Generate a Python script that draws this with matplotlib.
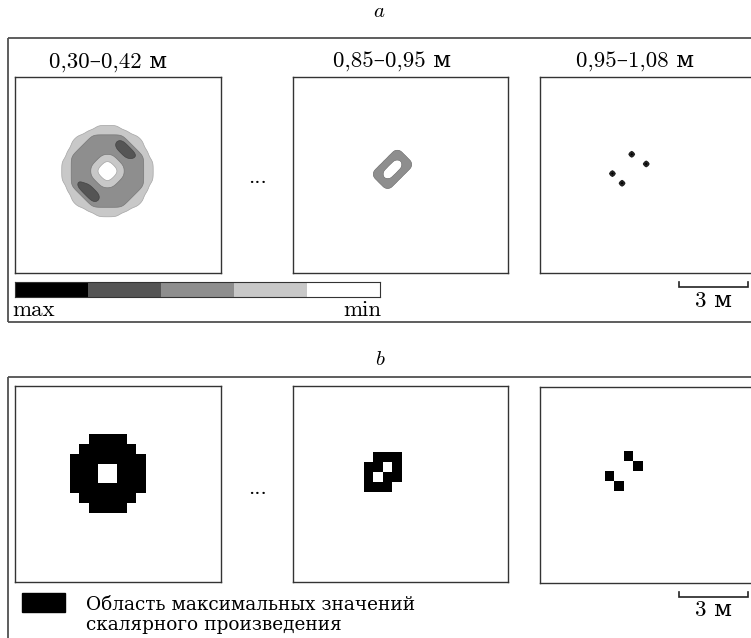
import numpy as np
import matplotlib
matplotlib.use("Agg")
import matplotlib.pyplot as plt
from matplotlib.colors import ListedColormap
from matplotlib.patches import Rectangle

plt.rcParams['mathtext.fontset'] = 'cm'
FONT = ['cmr10', 'DejaVu Serif']
plt.rcParams['font.family'] = FONT

# ---------------- data ----------------
depth_labels = ["0,30–0,42 м", "0,85–0,95 м", "0,95–1,08 м"]
panel_labels = ["$a$", "$b$"]
# level colours, index 0 = min (white) ... 4 = max (black)
level_colors = ["#ffffff", "#c8c8c8", "#8e8e8e", "#555555", "#000000"]
colorbar_levels = [4, 3, 2, 1, 0]
colorbar_ends = ["max", "min"]
scale_length_m = 3
legend_lines = ["Область максимальных значений", "скалярного произведения"]

# panel a: level of the scalar product on a grid (0 = min ... 4 = max)
field_1 = [
    "000000000000000000000",
    "000000001111100000000",
    "000000111111111000000",
    "000011122222221110000",
    "000111222222332111000",
    "000112222222333211000",
    "001122222222233321100",
    "001222222111223332100",
    "011222221101122222110",
    "011222211000112222110",
    "011222210000012222110",
    "011222211000112222110",
    "011232221101122222110",
    "001233322111222222100",
    "001123332222222221100",
    "000112333222222211000",
    "000111233222222111000",
    "000011122222221110000",
    "000000111111111000000",
    "000000001111100000000",
    "000000000000000000000",
]
field_2 = [
    "0000000000",
    "0000022000",
    "0000222200",
    "0002200220",
    "0022000220",
    "0220002200",
    "0220022000",
    "0022220000",
    "0002200000",
    "0000000000",
]
field_3 = [
    "0000000000",
    "0000040000",
    "0000000000",
    "0000000040",
    "0000000000",
    "0400000000",
    "0000000000",
    "0004000000",
    "0000000000",
]

# panel b: cells of maximal scalar product
mask_1 = [
    "..####..",
    ".######.",
    "########",
    "###..###",
    "###..###",
    "########",
    ".######.",
    "..####..",
]
mask_2 = [
    ".###",
    "##.#",
    "#.##",
    "###.",
]
mask_3 = [
    "..#.",
    "...#",
    "#...",
    ".#..",
]

# ---------------- layout ----------------
W, H = 751, 638
PX_PER_M = 23.0
GRID_STEP = 0.21              # m, grid of panel a
CELL_W, CELL_H = 0.41, 0.425  # m, cells of panel b

fig = plt.figure(figsize=(W / 100, H / 100), dpi=100)


def px_axes(x, y, w, h, **kw):
    return fig.add_axes([x / W, 1 - (y + h) / H, w / W, h / H], **kw)


overlay = px_axes(0, 0, W, H)
overlay.set_xlim(0, W)
overlay.set_ylim(H, 0)
overlay.axis('off')

frame_kw = dict(color='#505050', lw=1.3, solid_capstyle='butt')
overlay.plot([8, 760], [38, 38], **frame_kw)
overlay.plot([8, 8], [38, 322], **frame_kw)
overlay.plot([8, 760], [322, 322], **frame_kw)
overlay.plot([8, 760], [377, 377], **frame_kw)
overlay.plot([8, 8], [377, 650], **frame_kw)

overlay.text(379, 17, panel_labels[0], fontsize=15, ha='center', va='baseline')
overlay.text(380, 365, panel_labels[1], fontsize=15, ha='center', va='baseline')

boxes_a = [(15, 77, 206, 196), (293, 77, 215, 196), (539.5, 77, 215, 196)]
boxes_b = [(15, 386, 206, 196), (292.5, 386, 215, 196), (539.5, 386.5, 215, 196)]
title_x = [108, 392, 635]


def make_box(rect):
    x, y, w, h = rect
    ax = px_axes(x, y, w, h)
    ax.set_xticks([])
    ax.set_yticks([])
    for s in ax.spines.values():
        s.set_color('#333333')
        s.set_linewidth(1.0)
        s.set_zorder(5)
    return ax


def finish_box(ax, rect):
    _, _, w, h = rect
    ax.set_xlim(0, w / PX_PER_M)
    ax.set_ylim(h / PX_PER_M, 0)


def refine(ind, f, passes):
    """Bilinear refinement and light smoothing of an indicator grid (rendering only)."""
    ny, nx = ind.shape
    xs = np.linspace(0, nx - 1, (nx - 1) * f + 1)
    ys = np.linspace(0, ny - 1, (ny - 1) * f + 1)
    tmp = np.array([np.interp(xs, np.arange(nx), row) for row in ind])
    up = np.array([np.interp(ys, np.arange(ny), col) for col in tmp.T]).T
    k = np.array([1, 4, 6, 4, 1], float) / 16
    for _ in range(passes):
        up = np.apply_along_axis(lambda v: np.convolve(v, k, mode='same'), 0, up)
        up = np.apply_along_axis(lambda v: np.convolve(v, k, mode='same'), 1, up)
    return xs, ys, up


EDGE_COLORS = ["#ffffff", "#a5a5a5", "#777777", "#444444", "#222222"]
EDGE_WIDTHS = [0, 0.5, 0.5, 0.5, 1.4]


def draw_field(ax, rows, x0, y0, passes):
    Z = np.array([[int(c) for c in r] for r in rows], dtype=float)
    for k in range(1, 5):
        ind = (Z >= k).astype(float)
        if ind.any():
            xs, ys, S = refine(ind, 4, passes)
            X, Y = np.meshgrid(x0 + GRID_STEP * xs, y0 + GRID_STEP * ys)
            ax.contourf(X, Y, S, levels=[0.5, 2.0], colors=[level_colors[k]],
                        antialiased=True)
            ax.contour(X, Y, S, levels=[0.5], colors=[EDGE_COLORS[k]],
                       linewidths=EDGE_WIDTHS[k])


def draw_mask(ax, rows, x0, y0):
    M = np.array([[1.0 if c == '#' else 0.0 for c in r] for r in rows])
    ny, nx = M.shape
    Mm = np.ma.masked_equal(M, 0.0)
    ax.imshow(Mm, cmap=ListedColormap(['black']), vmin=0, vmax=1,
              extent=(x0, x0 + nx * CELL_W, y0 + ny * CELL_H, y0),
              origin='upper', interpolation='nearest', aspect='auto')


field_origins = [(1.92, 1.99), (3.38, 3.07), (2.96, 3.15)]
fields = [field_1, field_2, field_3]
smooth_passes = [8, 4, 0]
mask_origins = [(2.39, 2.13), (3.12, 2.90), (2.86, 2.83)]
masks = [mask_1, mask_2, mask_3]

axes_a, axes_b = [], []
for i in range(3):
    ax = make_box(boxes_a[i])
    draw_field(ax, fields[i], *field_origins[i], smooth_passes[i])
    finish_box(ax, boxes_a[i])
    axes_a.append(ax)
    overlay.text(title_x[i], 68, depth_labels[i], fontsize=16.5, ha='center',
                 va='baseline', family=FONT)

    bx = make_box(boxes_b[i])
    draw_mask(bx, masks[i], *mask_origins[i])
    finish_box(bx, boxes_b[i])
    axes_b.append(bx)

overlay.text(257, 183, "...", fontsize=16, ha='center', va='baseline', family=FONT)
overlay.text(257, 494, "...", fontsize=16, ha='center', va='baseline', family=FONT)

# colour scale
cax = px_axes(15, 282, 365, 15)
cax.imshow([colorbar_levels], cmap=ListedColormap(level_colors), vmin=-0.5, vmax=4.5,
           aspect='auto', extent=(0, len(colorbar_levels), 0, 1), interpolation='nearest')
cax.set_xticks([])
cax.set_yticks([])
for s in cax.spines.values():
    s.set_color('#333333')
    s.set_linewidth(0.8)
overlay.text(12, 316, colorbar_ends[0], fontsize=16.5, ha='left', va='baseline', family=FONT)
overlay.text(381, 316, colorbar_ends[1], fontsize=16.5, ha='right', va='baseline', family=FONT)

# scale bars (drawn in metres through the right-hand boxes)
for ax, rect in [(axes_a[2], boxes_a[2]), (axes_b[2], boxes_b[2])]:
    x0 = (679 - rect[0]) / PX_PER_M
    yb = (287 - 77) / PX_PER_M
    tick = 5 / PX_PER_M
    ax.plot([x0, x0, x0 + scale_length_m, x0 + scale_length_m],
            [yb - tick, yb, yb, yb - tick], color='#222222', lw=1.2,
            clip_on=False, solid_joinstyle='miter')
    ax.text(x0 + scale_length_m / 2, yb + 0.85, f"{scale_length_m} м", fontsize=16.5,
            ha='center', va='baseline', family=FONT, clip_on=False)

# legend of panel b
overlay.add_patch(Rectangle((22, 593), 43, 19, color='black'))
overlay.text(86, 610, legend_lines[0], fontsize=13.3, ha='left', va='baseline', family=FONT)
overlay.text(86, 630, legend_lines[1], fontsize=13.3, ha='left', va='baseline', family=FONT)

fig.savefig("out.png", dpi=100)
